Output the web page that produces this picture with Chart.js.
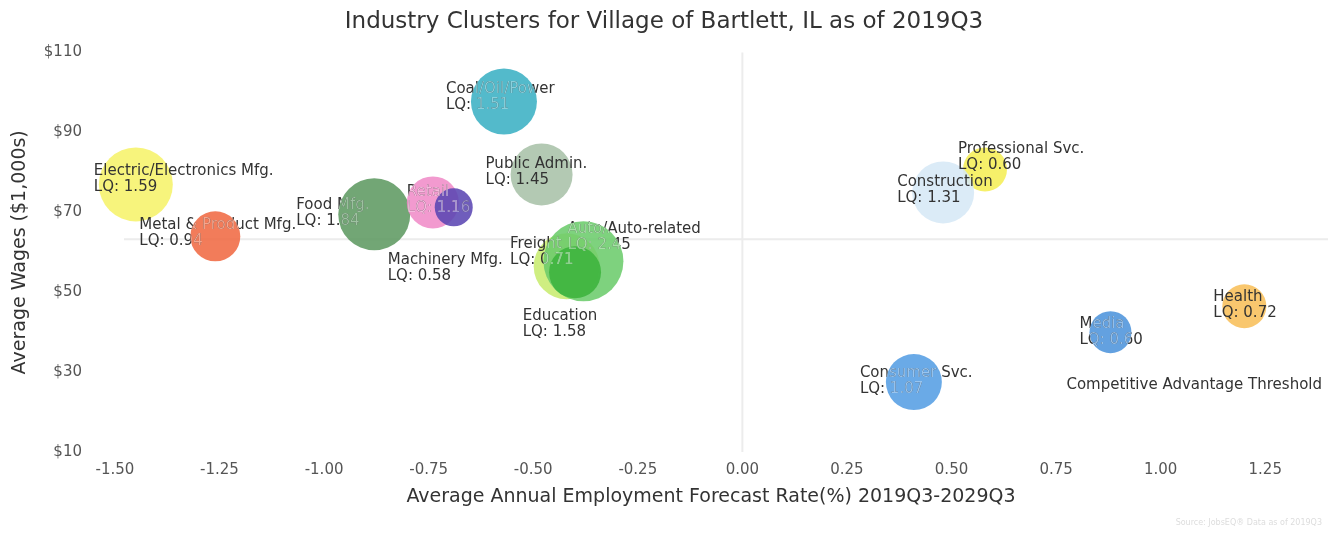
<!DOCTYPE html>
<html lang="en">
<head>
<meta charset="UTF-8">
<title>Industry Clusters for Village of Bartlett, IL</title>
<script src="https://cdn.jsdelivr.net/npm/chart.js"></script>
<style>
  body { margin: 0; background: #fff; }
  #wrap { width: 1333px; height: 536px; }
</style>
</head>
<body>
<div id="wrap"><canvas id="clusterChart"></canvas></div>
<script>
// industry clusters, drawn in this order (later bubbles sit on top)
const industries = [
  'Electric/Electronics Mfg.', 'Metal & Product Mfg.', 'Food Mfg.', 'Retail',
  'Machinery Mfg.', 'Coal/Oil/Power', 'Public Admin.', 'Education',
  'Auto/Auto-related', 'Freight', 'Professional Svc.', 'Construction',
  'Health', 'Media', 'Consumer Svc.'
];
const lqValues    = [1.59, 0.94, 1.84, 1.16, 0.58, 1.51, 1.45, 1.58, 2.45, 0.71, 0.60, 1.31, 0.72, 0.60, 1.07];
// average annual employment forecast rate (%) 2019Q3-2029Q3
const growthRates = [-1.45, -1.26, -0.88, -0.74, -0.69, -0.57, -0.48, -0.42, -0.38, -0.40, 0.58, 0.48, 1.20, 0.88, 0.41];
// average wages, $1,000s
const avgWages    = [77, 64, 69.5, 72.5, 71.25, 97.75, 79.5, 56.5, 57.75, 55, 80.75, 75, 46.5, 40, 27.5];
// bubble size (employment)
const bubbleSizes = [37, 25, 36, 26, 19, 33, 31, 33, 40, 26, 22, 31, 22, 21, 28];

const xTickValues = [-1.5, -1.25, -1, -0.75, -0.5, -0.25, 0, 0.25, 0.5, 0.75, 1, 1.25];
const yTickValues = [10, 30, 50, 70, 90, 110];

const growthThreshold = 0;
const wageThreshold = 63.25;

const bubbleColors = [
  '#f6f36a', '#f06a43', '#5e9a62', '#f08cc8', '#5b47b3', '#3bb0c4', '#a9c1a9', '#c8ec70',
  '#6ccc6c', '#3db43d', '#f5ee55', '#d6e8f6', '#f8bf5a', '#4d94dc', '#559ee4'
];
// label position relative to bubble centre: [dx, dy of first line]
const labelOffsets = [
  [-42, -13], [-76, -11], [-78, -9], [-26, -10], [-66, 53], [-58, -12], [-56, -10], [-44, 50],
  [-16, -32], [-65, -28], [-27, -20], [-46, -10], [-31, -9], [-31, -8], [-54, -9]
];

const FONT = '"DejaVu Sans", "Noto Sans", sans-serif';

function rgb(hex) {
  const n = parseInt(hex.slice(1), 16);
  return [(n >> 16) & 255, (n >> 8) & 255, n & 255];
}
function rgba(hex, a) {
  const [r, g, b] = rgb(hex);
  return `rgba(${r},${g},${b},${a})`;
}
function luminance(hex) {
  const [r, g, b] = rgb(hex);
  return 0.299 * r + 0.587 * g + 0.114 * b;
}
function tint(hex, t) {
  const [r, g, b] = rgb(hex).map(c => Math.round(c + (255 - c) * t));
  return `rgb(${r},${g},${b})`;
}

const points = industries.map((name, i) => ({
  x: growthRates[i], y: avgWages[i], r: bubbleSizes[i]
}));

// faint threshold lines through x = 0 and the average wage
const thresholdLines = {
  id: 'thresholdLines',
  beforeDatasetsDraw(chart) {
    const { ctx, chartArea: a, scales: { x, y } } = chart;
    ctx.save();
    ctx.strokeStyle = '#ececec';
    ctx.lineWidth = 2;
    const px = x.getPixelForValue(growthThreshold);
    const py = y.getPixelForValue(wageThreshold);
    ctx.beginPath();
    ctx.moveTo(px, a.top); ctx.lineTo(px, a.bottom);
    ctx.moveTo(a.left + 30, py); ctx.lineTo(a.right, py);
    ctx.stroke();
    ctx.restore();
  }
};

const clusterLabels = {
  id: 'clusterLabels',
  afterDatasetsDraw(chart) {
    const { ctx } = chart;
    const pts = chart.getDatasetMeta(0).data;
    const lineH = 16;
    const drawLabel = (i) => {
      const p = pts[i];
      const [dx, dy] = labelOffsets[i];
      ctx.fillText(industries[i], p.x + dx, p.y + dy);
      ctx.fillText('LQ: ' + lqValues[i].toFixed(2), p.x + dx, p.y + dy + lineH);
    };
    ctx.save();
    ctx.font = '15px ' + FONT;
    ctx.textAlign = 'left';
    ctx.textBaseline = 'middle';
    ctx.fillStyle = '#333';
    pts.forEach((p, i) => drawLabel(i));
    // text crossing a dark bubble takes a pale tint of that bubble
    pts.forEach((p, i) => {
      const c = bubbleColors[i];
      if (luminance(c) >= 180) return;
      ctx.save();
      ctx.beginPath();
      ctx.arc(p.x, p.y, p.options.radius, 0, Math.PI * 2);
      ctx.clip();
      ctx.fillStyle = tint(c, 0.4);
      pts.forEach((q, j) => drawLabel(j));
      ctx.restore();
    });

    const a = chart.chartArea;
    ctx.fillStyle = '#333';
    ctx.font = '15px ' + FONT;
    ctx.textAlign = 'right';
    ctx.fillText('Competitive Advantage Threshold', a.right - 6, chart.scales.y.getPixelForValue(26.75));
    ctx.fillStyle = '#dddddd';
    ctx.font = '8px ' + FONT;
    ctx.fillText('Source: JobsEQ\u00ae Data as of 2019Q3', a.right - 6, 523);
    ctx.restore();
  }
};

new Chart(document.getElementById('clusterChart'), {
  type: 'bubble',
  data: {
    labels: industries,
    datasets: [{
      data: points,
      backgroundColor: bubbleColors.map(c => rgba(c, 0.88)),
      borderWidth: 0,
      hoverBorderWidth: 0
    }]
  },
  options: {
    responsive: true,
    maintainAspectRatio: false,
    animation: false,
    layout: { autoPadding: false, padding: { left: 0, right: 5, top: 0, bottom: 0 } },
    plugins: {
      legend: { display: false },
      tooltip: { enabled: false },
      title: {
        display: true,
        text: 'Industry Clusters for Village of Bartlett, IL as of 2019Q3',
        color: '#333',
        font: { family: FONT, size: 23, weight: 'normal' },
        padding: { top: 8, bottom: 17 }
      }
    },
    scales: {
      x: {
        type: 'linear',
        min: -1.55,
        max: 1.4,
        grid: { display: false, drawTicks: false },
        border: { display: false },
        afterBuildTicks: s => { s.ticks = xTickValues.map(v => ({ value: v })); },
        afterFit: s => { s.height = 84; s.paddingLeft = 0; s.paddingRight = 0; },
        ticks: {
          color: '#555',
          padding: 9,
          maxRotation: 0,
          font: { family: FONT, size: 15 },
          callback: v => Number(v).toFixed(2)
        },
        title: {
          display: true,
          text: 'Average Annual Employment Forecast Rate(%) 2019Q3-2029Q3',
          color: '#333',
          font: { family: FONT, size: 19 },
          padding: { top: 0, bottom: 28 }
        }
      },
      y: {
        type: 'linear',
        min: 10,
        max: 110,
        grid: { display: false, drawTicks: false },
        border: { display: false },
        afterBuildTicks: s => { s.ticks = yTickValues.map(v => ({ value: v })); },
        afterFit: s => { s.width = 94; s.paddingTop = 0; s.paddingBottom = 0; },
        ticks: {
          color: '#555',
          padding: 12,
          font: { family: FONT, size: 15 },
          callback: v => '$' + v
        },
        title: {
          display: true,
          text: 'Average Wages ($1,000s)',
          color: '#333',
          font: { family: FONT, size: 19 },
          padding: { top: 9, bottom: 0 }
        }
      }
    }
  },
  plugins: [thresholdLines, clusterLabels]
});
</script>
</body>
</html>
